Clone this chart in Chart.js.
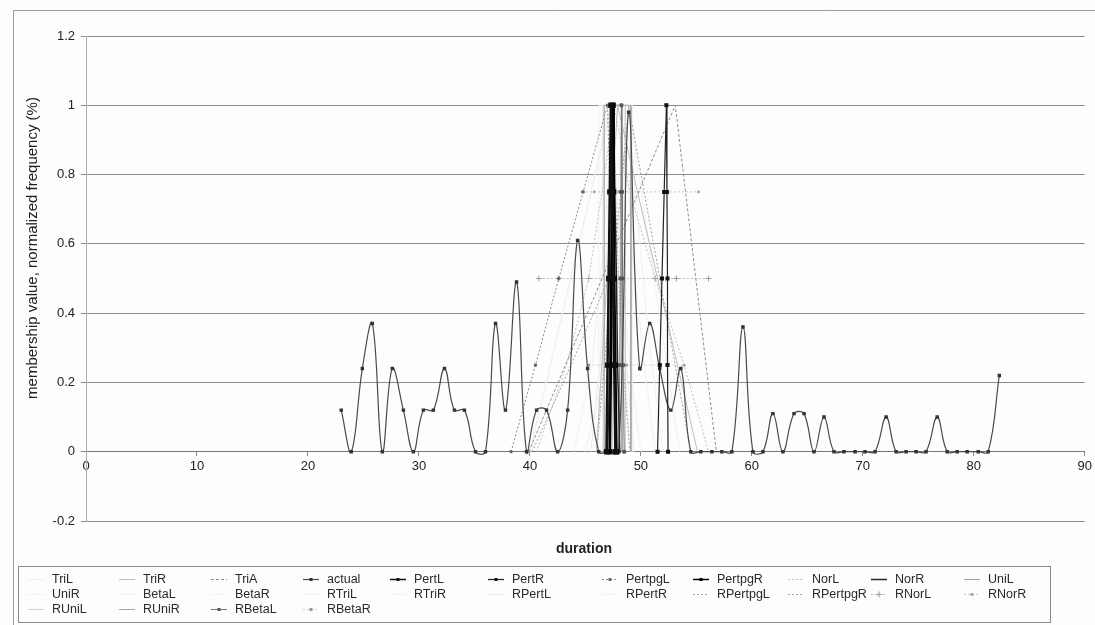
<!DOCTYPE html>
<html>
<head>
<meta charset="utf-8">
<script src="https://cdn.jsdelivr.net/npm/chart.js@4.4.0/dist/chart.umd.min.js"></script>
<style>
html,body{margin:0;padding:0;background:#ffffff;}
#wrap{width:1095px;height:625px;position:relative;}
canvas{display:block;}
</style>
</head>
<body>
<div id="wrap"><canvas id="c" width="1095" height="625"></canvas></div>
<script>
// ---------- axis ticks ----------
const xTicks = [0, 10, 20, 30, 40, 50, 60, 70, 80, 90];
const yTicks = [-0.2, 0, 0.2, 0.4, 0.6, 0.8, 1, 1.2];
const yTickLabels = ['-0.2', '0', '0.2', '0.4', '0.6', '0.8', '1', '1.2'];

// ---------- legend / series names ----------
const seriesNames = ['TriL','TriR','TriA','actual','PertL','PertR','PertpgL','PertpgR','NorL','NorR','UniL',
  'UniR','BetaL','BetaR','RTriL','RTriR','RPertL','RPertR','RPertpgL','RPertpgR','RNorL','RNorR',
  'RUniL','RUniR','RBetaL','RBetaR'];

// ---------- observed (actual) normalized frequency ----------
const actualX = [23.0,23.9,24.9,25.8,26.7,27.6,28.6,29.5,30.4,31.3,32.3,33.2,34.1,35.1,36.0,36.9,37.8,38.8,39.7,40.6,
  41.5,42.5,43.4,44.3,45.2,46.2,47.1,48.0,48.9,49.9,50.8,51.7,52.7,53.6,54.5,55.4,56.4,57.3,58.2,59.2,
  60.1,61.0,61.9,62.8,63.8,64.7,65.6,66.5,67.4,68.3,69.3,70.2,71.1,72.1,73.0,73.9,74.8,75.7,76.7,77.6,
  78.5,79.4,80.4,81.3,82.3];
const actualY = [0.12,0,0.24,0.37,0,0.24,0.12,0,0.12,0.12,0.24,0.12,0.12,0,0,0.37,0.12,0.49,0,0.12,
  0.12,0,0.12,0.61,0.24,0,0,0,0.98,0.24,0.37,0.24,0.12,0.24,0,0,0,0,0,0.36,
  0,0,0.11,0,0.11,0.11,0,0.1,0,0,0,0,0,0.1,0,0,0,0,0.1,0,
  0,0,0,0,0.22];

// ---------- membership functions ----------
const alphaUpDown = [0,0.25,0.5,0.75,1,0.75,0.5,0.25,0];
const triY = [0,1,0];
const uniY = [0,1,1,0];

const triLX = [40.0,47.4,49.0];
const triRX = [46.0,47.9,55.1];
const triAX = [39.9,53.1,56.8];
const pertLX = [46.9,47.0,47.1,47.2,47.3,47.4,47.5,47.6,47.7];
const pertRX = [51.5,51.7,51.9,52.1,52.3,52.35,52.4,52.4,52.45];
const pertpgLX = [38.3,40.5,42.6,44.8,47.0,47.2,47.4,47.6,47.8];
const pertpgRX = [47.2,47.3,47.35,47.4,47.5,47.55,47.6,47.7,47.8];
const norLX = [40.6,43.3,45.3,46.5,47.6,49.0,51.3,53.9,56.1];
const norRX = [47.0,47.2,47.3,47.45,47.55,47.65,47.8,47.9,48.1];
const uniLX = [46.7,46.7,48.3,48.3];
const uniRX = [46.2,46.2,49.2,49.2];
const betaLX = [44.0,45.6,46.4,47.0,47.4,47.8,48.3,49.0,50.0];
const betaRX = [45.0,46.8,47.6,48.3,48.9,49.5,50.2,51.0,52.0];
const rTriLX = [40.0,47.3,48.5];
const rTriRX = [46.5,48.9,53.5];
const rPertLX = [45.5,46.3,46.8,47.1,47.4,47.8,48.2,48.7,49.4];
const rPertRX = [46.0,46.8,47.4,47.9,48.4,48.9,49.5,50.3,51.3];
const rPertpgLX = [40.2,43.7,47.1,47.3,47.5,47.7,48.0,48.4,49.0];
const rPertpgRX = [46.0,46.7,47.4,48.2,48.9,50.3,51.7,53.1,54.5];
const rNorLX = [40.8,42.6,45.3,47.3,48.3,51.3,53.2,56.1];
const rNorLY = [0.5,0.5,0.5,0.5,0.5,0.5,0.5,0.5];
const rNorRX = [44.7,45.8,48.0,52.3,55.2];
const rNorRY = [0.75,0.75,0.75,0.75,0.75];
const rUniLX = [46.6,46.6,48.6,48.6];
const rUniRX = [47.4,47.4,49.1,49.1];
const rBetaLX = [48.0,48.1,48.15,48.2,48.25,48.3,48.35,48.4,48.5];
const rBetaRX = [45.3,48.7,51.7,53.9];
const rBetaRY = [0.25,0.25,0.25,0.25];

// ---------- build datasets ----------
function series(label, xs, ys, o) {
  return Object.assign({
    label: label,
    data: xs.map((x, i) => ({x: x, y: ys[i]})),
    showLine: true, fill: false, tension: 0, borderWidth: 1,
    pointRadius: 0, pointHoverRadius: 0, borderDash: [], order: 5
  }, o);
}
const FAINT = '#f1f1f1';
const dots = [2, 2];
const datasets = [
  series('TriL', triLX, triY, {borderColor: FAINT, order: 9}),
  series('TriR', triRX, triY, {borderColor: '#bdbdbd', order: 6}),
  series('TriA', triAX, triY, {borderColor: '#8f8f8f', borderDash: [3, 2], order: 6}),
  series('actual', actualX, actualY, {borderColor: '#4a4a4a', borderWidth: 1.2, tension: 0.4,
    pointRadius: 1.6, pointStyle: 'rect', pointBackgroundColor: '#333', pointBorderColor: '#333', order: 1}),
  series('PertL', pertLX, alphaUpDown, {borderColor: '#111', borderWidth: 2.5, pointRadius: 2,
    pointStyle: 'rect', pointBackgroundColor: '#111', pointBorderColor: '#111', order: 0}),
  series('PertR', pertRX, alphaUpDown, {borderColor: '#222', borderWidth: 1.2, pointRadius: 2,
    pointStyle: 'rect', pointBackgroundColor: '#111', pointBorderColor: '#111', order: 0}),
  series('PertpgL', pertpgLX, alphaUpDown, {borderColor: '#8a8a8a', borderDash: dots, pointRadius: 1.5,
    pointStyle: 'rect', pointBackgroundColor: '#666', pointBorderColor: '#666', order: 4}),
  series('PertpgR', pertpgRX, alphaUpDown, {borderColor: '#000', borderWidth: 2.5, pointRadius: 2,
    pointStyle: 'rect', pointBackgroundColor: '#000', pointBorderColor: '#000', order: 0}),
  series('NorL', norLX, alphaUpDown, {borderColor: '#c2c2c2', borderDash: dots, order: 7}),
  series('NorR', norRX, alphaUpDown, {borderColor: '#262626', borderWidth: 1.5, order: 0}),
  series('UniL', uniLX, uniY, {borderColor: '#a0a0a0', order: 5}),
  series('UniR', uniRX, uniY, {borderColor: FAINT, order: 9}),
  series('BetaL', betaLX, alphaUpDown, {borderColor: FAINT, order: 9}),
  series('BetaR', betaRX, alphaUpDown, {borderColor: FAINT, order: 9}),
  series('RTriL', rTriLX, triY, {borderColor: FAINT, order: 9}),
  series('RTriR', rTriRX, triY, {borderColor: FAINT, order: 9}),
  series('RPertL', rPertLX, alphaUpDown, {borderColor: '#ebebeb', order: 9}),
  series('RPertR', rPertRX, alphaUpDown, {borderColor: FAINT, order: 9}),
  series('RPertpgL', rPertpgLX, alphaUpDown, {borderColor: '#a3a3a3', borderDash: dots, order: 6}),
  series('RPertpgR', rPertpgRX, alphaUpDown, {borderColor: '#a0a0a0', borderDash: dots, order: 6}),
  series('RNorL', rNorLX, rNorLY, {borderColor: '#c0c0c0', borderDash: dots, pointRadius: 3,
    pointStyle: 'cross', pointBorderColor: '#9a9a9a', pointBorderWidth: 1, order: 7}),
  series('RNorR', rNorRX, rNorRY, {borderColor: '#c8c8c8', borderDash: dots, pointRadius: 1.3,
    pointStyle: 'rect', pointBackgroundColor: '#aaa', pointBorderColor: '#aaa', order: 7}),
  series('RUniL', rUniLX, uniY, {borderColor: '#d2d2d2', order: 8}),
  series('RUniR', rUniRX, uniY, {borderColor: '#a6a6a6', order: 5}),
  series('RBetaL', rBetaLX, alphaUpDown, {borderColor: '#777', pointRadius: 2, pointStyle: 'rect',
    pointBackgroundColor: '#555', pointBorderColor: '#555', order: 2}),
  series('RBetaR', rBetaRX, rBetaRY, {borderColor: '#cccccc', borderDash: dots, pointRadius: 1.3,
    pointStyle: 'rect', pointBackgroundColor: '#999', pointBorderColor: '#999', order: 7})
];

// ---------- decorations: frame, titles, grid legend ----------
const FONT = "'Liberation Sans', Arial, sans-serif";
const legendCols = [52, 143, 235, 327, 414, 512, 626, 717, 812, 895, 988];
const legendRows = [579, 594, 609];

const decor = {
  id: 'decor',
  beforeDraw(chart) {
    const ctx = chart.ctx;
    ctx.save();
    ctx.fillStyle = '#fdfdfd';
    ctx.fillRect(0, 0, chart.width, chart.height);
    ctx.restore();
  },
  afterDraw(chart) {
    const ctx = chart.ctx;
    ctx.save();
    // outer chart border
    ctx.strokeStyle = '#9a9a9a';
    ctx.lineWidth = 1;
    ctx.beginPath();
    ctx.moveTo(13.5, 625); ctx.lineTo(13.5, 10.5); ctx.lineTo(1095, 10.5);
    ctx.stroke();
    // y axis title
    ctx.fillStyle = '#222';
    ctx.font = '15px ' + FONT;
    ctx.textAlign = 'center';
    ctx.textBaseline = 'middle';
    ctx.save();
    ctx.translate(33, 248);
    ctx.rotate(-Math.PI / 2);
    ctx.fillText('membership value, normalized frequency (%)', 0, 0);
    ctx.restore();
    // x axis title
    ctx.font = 'bold 14px ' + FONT;
    ctx.fillText('duration', 584, 549);
    // legend box
    ctx.strokeStyle = '#8a8a8a';
    ctx.strokeRect(18.5, 566.5, 1032, 56);
    ctx.font = '12.5px ' + FONT;
    ctx.textAlign = 'left';
    chart.data.datasets.forEach((ds, i) => {
      const col = i % 11, row = Math.floor(i / 11);
      const tx = legendCols[col], ty = legendRows[row];
      ctx.save();
      ctx.strokeStyle = ds.borderColor;
      ctx.lineWidth = Math.min(ds.borderWidth, 1.5);
      ctx.setLineDash(ds.borderDash || []);
      ctx.beginPath();
      ctx.moveTo(tx - 24, ty + 0.5); ctx.lineTo(tx - 8, ty + 0.5);
      ctx.stroke();
      ctx.setLineDash([]);
      if (ds.pointRadius > 0) {
        const cx = tx - 16;
        if (ds.pointStyle === 'cross') {
          ctx.strokeStyle = ds.pointBorderColor;
          ctx.beginPath();
          ctx.moveTo(cx - 3, ty + 0.5); ctx.lineTo(cx + 3, ty + 0.5);
          ctx.moveTo(cx, ty - 2.5); ctx.lineTo(cx, ty + 3.5);
          ctx.stroke();
        } else {
          ctx.fillStyle = ds.pointBackgroundColor;
          ctx.fillRect(cx - 1.5, ty - 1, 3, 3);
        }
      }
      ctx.restore();
      ctx.fillStyle = '#2a2a2a';
      ctx.fillText(ds.label, tx, ty + 1);
    });
    ctx.restore();
  }
};

new Chart(document.getElementById('c'), {
  type: 'scatter',
  data: {datasets: datasets},
  options: {
    responsive: false,
    animation: false,
    events: [],
    layout: {padding: {left: 0, top: 36, right: 8, bottom: 104}},
    plugins: {legend: {display: false}, tooltip: {enabled: false}, title: {display: false}},
    scales: {
      x: {
        type: 'linear',
        position: {y: 0},
        min: xTicks[0], max: xTicks[xTicks.length - 1],
        afterBuildTicks: s => { s.ticks = xTicks.map(v => ({value: v})); },
        ticks: {color: '#222', font: {family: FONT, size: 13}, padding: 3, maxRotation: 0,
          callback: v => String(v)},
        grid: {drawOnChartArea: false, drawTicks: true, tickLength: 4, color: '#888'},
        border: {display: true, color: '#777', width: 1},
        title: {display: false}
      },
      y: {
        type: 'linear',
        min: yTicks[0], max: yTicks[yTicks.length - 1],
        afterBuildTicks: s => { s.ticks = yTicks.map(v => ({value: v})); },
        afterFit: s => { s.width = 86; },
        ticks: {color: '#222', font: {family: FONT, size: 13}, padding: 6,
          callback: (v) => { const k = yTicks.findIndex(t => Math.abs(t - v) < 1e-9); return k >= 0 ? yTickLabels[k] : ''; }},
        grid: {color: '#8c8c8c', lineWidth: 1, drawTicks: true, tickLength: 5},
        border: {display: true, color: '#b0b0b0', width: 1},
        title: {display: false}
      }
    }
  },
  plugins: [decor]
});
</script>
</body>
</html>
